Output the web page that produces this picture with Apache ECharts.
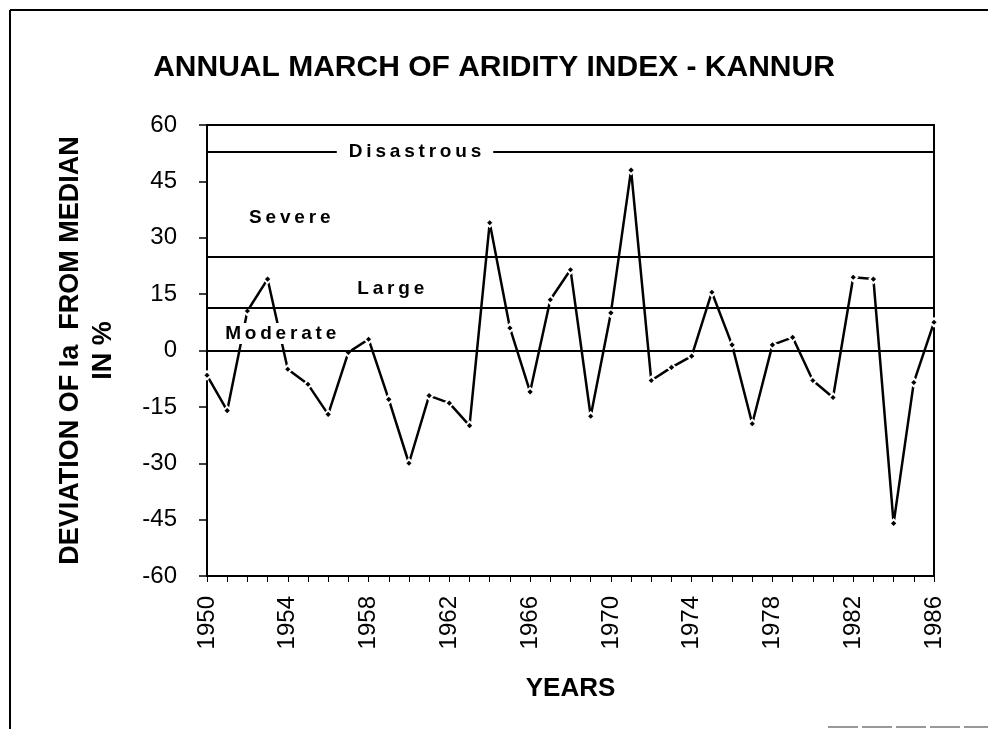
<!DOCTYPE html>
<html>
<head>
<meta charset="utf-8">
<title>Annual March of Aridity Index - Kannur</title>
<script src="https://cdn.jsdelivr.net/npm/echarts@6/dist/echarts.min.js"></script>
<style>
  html, body { margin: 0; padding: 0; background: #fff; }
  #chart { width: 988px; height: 729px; }
</style>
</head>
<body>
<div id="chart"></div>
<script>
// years on the x axis
const years = [
  '1950', '1951', '1952', '1953', '1954', '1955', '1956', '1957', '1958', '1959',
  '1960', '1961', '1962', '1963', '1964', '1965', '1966', '1967', '1968', '1969',
  '1970', '1971', '1972', '1973', '1974', '1975', '1976', '1977', '1978', '1979',
  '1980', '1981', '1982', '1983', '1984', '1985', '1986'
];

// deviation of Ia from median, in %
const deviation = [
  -6.6, -16, 10.5, 19, -5, -9, -17, -0.5, 3, -13,
  -30, -12, -14, -20, 34, 6, -11, 13.5, 21.5, -17.5,
  10, 48, -8, -4.5, -1.5, 15.5, 1.5, -19.5, 1.5, 3.5,
  -8, -12.5, 19.5, 19, -46, -8.5, 7.5
];

// class boundaries and class names
const zoneLines = [53, 25, 11.5, 0];
const zoneNames = ['Disastrous', 'Severe', 'Large', 'Moderate'];
// where each class name sits: [year, deviation]
const zoneLabelAt = [[1960.3, 53], [1954.1, 35.4], [1959.1, 16.4], [1953.65, 4.5]];

const yTicks = { min: -60, max: 60, step: 15 };

const FONT = '"Liberation Sans", Arial, sans-serif';
const spaced = s => s.split('').join('\u2009');

const chart = echarts.init(document.getElementById('chart'));

chart.setOption({
  animation: false,
  backgroundColor: '#fff',
  title: {
    text: 'ANNUAL MARCH OF ARIDITY INDEX - KANNUR',
    left: 'center',
    top: 48,
    textStyle: { fontFamily: FONT, fontSize: 30, fontWeight: 'bold', color: '#000' }
  },
  graphic: [
    { type: 'line', shape: { x1: 10, y1: 10, x2: 988, y2: 10 }, style: { stroke: '#000', lineWidth: 2 } },
    { type: 'line', shape: { x1: 10, y1: 10, x2: 10, y2: 729 }, style: { stroke: '#000', lineWidth: 2 } },
    { type: 'line', shape: { x1: 828, y1: 727, x2: 988, y2: 727 }, style: { stroke: '#999', lineWidth: 2, lineDash: [30, 4] } }
  ],
  grid: {
    left: 207, right: 54, top: 125, bottom: 153,
    show: true, borderColor: '#000', borderWidth: 2
  },
  xAxis: [
    {
      type: 'category',
      data: years,
      boundaryGap: false,
      axisLine: { onZero: false, lineStyle: { color: '#000', width: 2 } },
      axisTick: { show: true, interval: 0, length: 6, lineStyle: { color: '#000', width: 1 } },
      axisLabel: {
        interval: 3, rotate: 90, margin: 20,
        fontFamily: FONT, fontSize: 24, color: '#000'
      },
      name: 'YEARS',
      nameLocation: 'middle',
      nameGap: 100,
      nameTextStyle: { fontFamily: FONT, fontSize: 26, fontWeight: 'bold', color: '#000' }
    },
    {
      type: 'value',
      min: 1950, max: 1986,
      show: false,
      axisLine: { onZero: false }
    }
  ],
  yAxis: {
    type: 'value',
    min: yTicks.min, max: yTicks.max, interval: yTicks.step,
    splitLine: { show: false },
    axisLine: { show: true, onZero: false, lineStyle: { color: '#000', width: 2 } },
    axisTick: { show: true, length: 8, lineStyle: { color: '#000', width: 1.5 } },
    axisLabel: { margin: 30, fontFamily: FONT, fontSize: 24, color: '#000' },
    name: 'DEVIATION OF Ia  FROM MEDIAN\nIN %',
    nameLocation: 'middle',
    nameRotate: 90,
    nameGap: 87,
    nameTextStyle: { fontFamily: FONT, fontSize: 27, fontWeight: 'bold', color: '#000', lineHeight: 33 }
  },
  series: [
    {
      type: 'line',
      data: deviation,
      z: 2,
      symbol: 'diamond',
      symbolSize: 8,
      lineStyle: { color: '#000', width: 2.5 },
      itemStyle: { color: '#000', borderColor: '#fff', borderWidth: 2 },
      markLine: {
        silent: true,
        symbol: 'none',
        label: { show: false },
        lineStyle: { color: '#000', width: 2, type: 'solid' },
        data: zoneLines.map(v => ({ yAxis: v }))
      }
    },
    {
      type: 'scatter',
      xAxisIndex: 1,
      z: 5,
      symbolSize: 0,
      silent: true,
      itemStyle: { opacity: 1, color: '#000' },
      data: zoneLabelAt.map((p, i) => ({ value: p, name: zoneNames[i] })),
      label: {
        show: true,
        position: 'inside',
        formatter: p => spaced(p.name),
        fontFamily: FONT, fontSize: 19, fontWeight: 'bold', color: '#000',
        textBorderWidth: 0, opacity: 1,
        backgroundColor: '#fff',
        padding: [1, 12]
      }
    }
  ]
});
</script>
</body>
</html>
